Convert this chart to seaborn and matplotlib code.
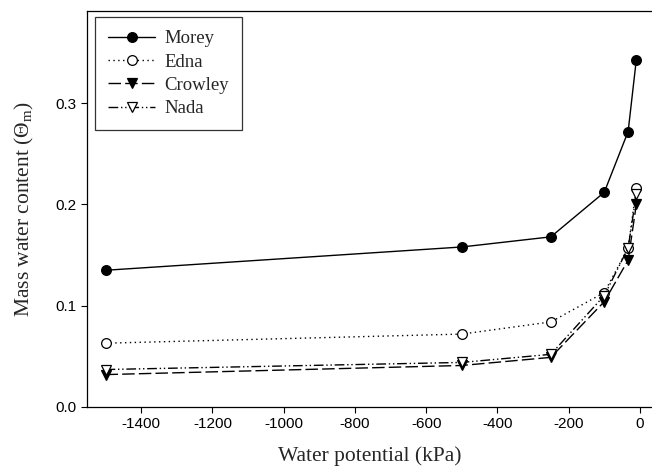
import matplotlib
matplotlib.use("Agg")
import matplotlib.pyplot as plt
import seaborn as sns
import numpy as np

sns.set_style("ticks")
plt.rcParams["axes.unicode_minus"] = False
plt.rcParams["mathtext.fontset"] = "custom"
plt.rcParams["mathtext.rm"] = "Liberation Serif"
plt.rcParams["mathtext.it"] = "Liberation Serif:italic"

potential = [-1500, -500, -250, -100, -33, -10]
morey = [0.135, 0.158, 0.168, 0.212, 0.272, 0.343]
edna = [0.063, 0.072, 0.084, 0.113, 0.157, 0.216]
crowley = [0.032, 0.041, 0.049, 0.104, 0.145, 0.200]
nada = [0.037, 0.044, 0.052, 0.110, 0.157, 0.210]

series = [
    ("Morey", morey, dict(marker="o", mfc="black", mec="black", linestyle="-")),
    ("Edna", edna, dict(marker="o", mfc="white", mec="black", dashes=(1, 2.5))),
    ("Crowley", crowley, dict(marker="v", mfc="black", mec="black", dashes=(9, 3))),
    ("Nada", nada, dict(marker="v", mfc="white", mec="black", dashes=(7, 2, 1, 2, 1, 2))),
]

fig = plt.figure(figsize=(6.52, 4.76), dpi=100)
ax = fig.add_axes([87/652, (476-407)/476, (652-87)/652, (407-11)/476])

for name, vals, kw in series:
    sns.lineplot(x=potential, y=vals, ax=ax, color="black", lw=1.0, ms=7,
                 mew=0.9, label=name, **kw)

ax.set_xlim(-1552, 34)
ax.set_ylim(0, 0.391)
ax.set_xticks(np.arange(-1400, 1, 200))
ax.set_yticks([0.0, 0.1, 0.2, 0.3])
ax.set_yticklabels(["0.0", "0.1", "0.2", "0.3"])
for lab in ax.get_xticklabels() + ax.get_yticklabels():
    lab.set_family("Liberation Sans")
    lab.set_fontsize(11)
ax.tick_params(direction="out", length=4, width=0.8, color="black", labelcolor="black")
ax.spines["right"].set_visible(False)
for s in ["left", "bottom", "top"]:
    ax.spines[s].set_color("black")
    ax.spines[s].set_linewidth(0.9)

ax.set_xlabel("Water potential (kPa)", family="Liberation Serif", fontsize=15.5, labelpad=11)
ax.set_ylabel("Mass water content (Θ$_\\mathrm{m}$)", family="Liberation Serif",
              fontsize=15.5, labelpad=14)

leg = ax.legend(loc="upper left", bbox_to_anchor=(2/565, 1.0), frameon=True, fancybox=False,
                edgecolor="black", prop={"family": "Liberation Serif", "size": 13.5},
                handlelength=2.5, borderpad=0.7, labelspacing=0.33, handletextpad=0.5,
                borderaxespad=0.33)
leg.get_frame().set_linewidth(0.9)

fig.savefig("out.png", dpi=100)
